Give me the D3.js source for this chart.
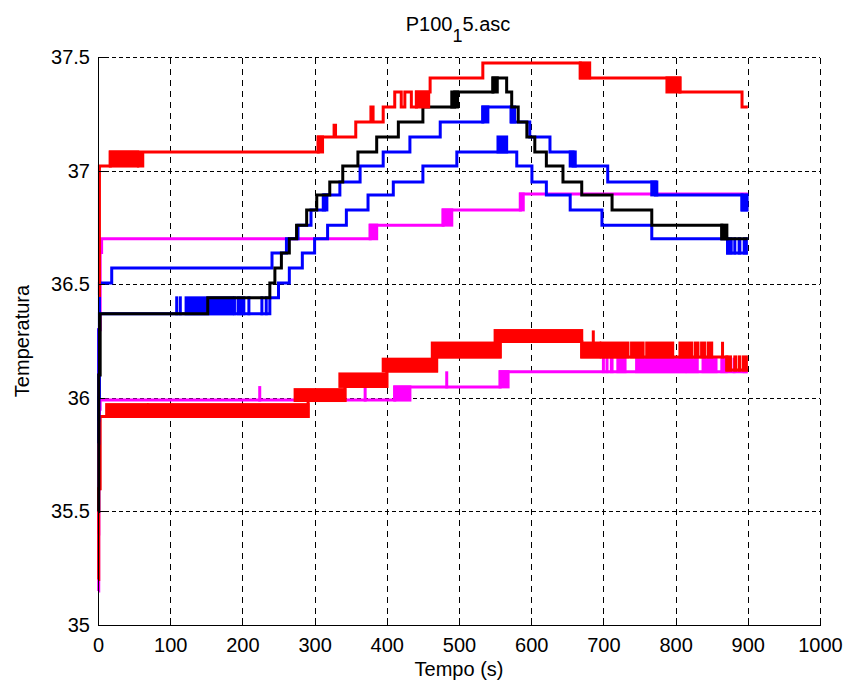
<!DOCTYPE html>
<html>
<head>
<meta charset="utf-8">
<script src="https://cdn.jsdelivr.net/npm/d3@7"></script>
<style>
  html, body { margin: 0; padding: 0; background: #fff; }
  svg { display: block; }
  text { font-family: "Liberation Sans", Arial, sans-serif; fill: #000; }
</style>
</head>
<body>
<svg id="chart" width="845" height="690"></svg>
<script>
// Axis ticks
const xTicks = [0, 100, 200, 300, 400, 500, 600, 700, 800, 900, 1000];
const yTicks = [35, 35.5, 36, 36.5, 37, 37.5];
const yTickLabels = ["35", "35.5", "36", "36.5", "37", "37.5"];

// Step series: [tempo (s), temperatura]
const redTop = [[0,36.45],[2,37.02],[17,37.082],[56,37.02],[58,37.082],[60,37.02],[62,37.082],
  [305,37.148],[327,37.2],[329,37.148],[357,37.214],[378,37.28],[381,37.214],
  [395,37.28],[411,37.346],[420,37.28],[425,37.346],[434,37.28],[441,37.346],
  [460,37.408],[533,37.474],[668,37.408],[806,37.346],[892,37.28],[900,37.28]];
const black = [[0,35.5],[1,36.1],[3,36.37],[152,36.44],[238,36.505],[245,36.571],[254,36.637],
  [265,36.70],[275,36.76],[289,36.827],[303,36.893],[321,36.95],[339,37.02],[360,37.082],
  [386,37.148],[416,37.214],[450,37.28],[494,37.346],[547,37.408],[566,37.346],[573,37.28],
  [582,37.214],[594,37.148],[605,37.082],[621,37.02],[644,36.95],[670,36.893],[712,36.827],
  [767,36.76],[864,36.70],[900,36.70]];
const blueUpper = [[0,35.9],[1,36.3],[2,36.505],[19,36.571],[241,36.637],[261,36.70],[277,36.76],
  [295,36.827],[314,36.893],[335,36.95],[363,37.02],[395,37.082],[432,37.148],[474,37.214],
  [533,37.28],[573,37.214],[598,37.148],[626,37.082],[658,37.02],[706,36.95],[772,36.893],
  [892,36.827],[900,36.827]];
const blueLower = [[0,35.8],[1,36.0],[2,36.37],[238,36.44],[250,36.505],[265,36.571],[283,36.637],
  [300,36.70],[318,36.76],[344,36.827],[374,36.893],[409,36.95],[450,37.02],[497,37.082],
  [580,37.02],[601,36.95],[621,36.893],[654,36.827],[698,36.76],[767,36.70],[872,36.637],
  [900,36.637]];
const magentaUpper = [[0,35.4],[1,36.3],[3,36.64],[5,36.70],[377,36.76],[478,36.827],[585,36.897],[900,36.897]];
const magentaLower = [[0,35.15],[1,35.6],[2,35.95],[3,35.99],[411,36.048],[557,36.115],[900,36.115]];
const redLower = [[0,35.2],[1,35.6],[3,35.918],[291,35.988],[342,36.05],[400,36.118],[469,36.18],
  [557,36.248],[670,36.18],[871,36.122],[900,36.122]];

// Rapid toggling between two levels: [t0, t1, low, high]
const redTopNoise = [[17,55,37.02,37.082],[305,311,37.082,37.148],[441,458,37.28,37.346],
  [668,681,37.408,37.474],[788,806,37.346,37.408]];
const blackNoise = [[490,498,37.28,37.346],[547,553,37.346,37.408],[864,871,36.70,36.76]];
const blueUpperNoise = [[312,317,36.827,36.893],[533,540,37.214,37.28],[572,577,37.214,37.28],
  [654,661,37.02,37.082],[767,774,36.893,36.95],[892,899,36.827,36.893]];
const blueLowerNoise = [[109,109,36.37,36.44],[114,114,36.37,36.44],[122,186,36.37,36.44],
  [189,189,36.37,36.44],[194,202,36.37,36.44],[209,209,36.37,36.44],[227,227,36.37,36.44],
  [233,233,36.37,36.44],[554,566,37.082,37.148],[872,877,36.637,36.70],[882,882,36.637,36.70],
  [888,889,36.637,36.70],[895,898,36.637,36.70]];
const magentaUpperNoise = [[377,386,36.70,36.76],[478,490,36.76,36.827],[585,589,36.827,36.897]];
const magentaLowerNoise = [[224,224,35.99,36.045],[370,370,35.99,36.045],[411,432,35.99,36.048],
  [483,483,36.048,36.11],[557,568,36.048,36.115],[700,700,36.115,36.17],[705,705,36.115,36.17],
  [711,712,36.115,36.17],[720,730,36.115,36.17],[746,813,36.115,36.17],[816,830,36.115,36.17],
  [838,856,36.115,36.17],[864,870,36.115,36.17],[881,881,36.115,36.17],[895,897,36.115,36.17]];
const redLowerNoise = [[12,68,35.918,35.97],[70,291,35.918,35.97],[273,342,35.988,36.036],
  [335,400,36.05,36.105],[395,469,36.118,36.17],[463,557,36.18,36.241],[550,670,36.248,36.296],
  [670,695,36.18,36.241],[686,686,36.241,36.29],[697,734,36.18,36.241],[739,755,36.18,36.241],
  [760,796,36.18,36.241],[806,822,36.18,36.241],[827,831,36.18,36.241],[836,840,36.18,36.241],
  [845,850,36.18,36.241],[865,865,36.18,36.24],[871,876,36.122,36.18],[882,883,36.122,36.18],
  [888,889,36.122,36.18],[894,898,36.122,36.18]];

// Drawing order: later entries sit on top
const series = [
  { data: magentaUpper, noise: magentaUpperNoise, color: "#ff00ff" },
  { data: magentaLower, noise: magentaLowerNoise, color: "#ff00ff" },
  { data: redLower,     noise: redLowerNoise,     color: "#ff0000" },
  { data: blueUpper,    noise: blueUpperNoise,    color: "#0000ff" },
  { data: blueLower,    noise: blueLowerNoise,    color: "#0000ff" },
  { data: black,        noise: blackNoise,        color: "#000000" },
  { data: redTop,       noise: redTopNoise,       color: "#ff0000" }
];

const svg = d3.select("#chart");
const plotLeft = 98, plotRight = 820, plotTop = 57, plotBottom = 625;
const x = d3.scaleLinear().domain([0, 1000]).range([plotLeft, plotRight]);
const y = d3.scaleLinear().domain([35, 37.5]).range([plotBottom, plotTop]);
const lw = 3;

svg.append("rect").attr("width", 845).attr("height", 690).attr("fill", "#fff");

// Dashed grid
const grid = svg.append("g").attr("stroke", "#000").attr("stroke-width", 1).attr("shape-rendering", "crispEdges");
grid.selectAll("line.v").data(xTicks).join("line").attr("class", "v")
  .attr("x1", d => Math.round(x(d)) + 0.5).attr("x2", d => Math.round(x(d)) + 0.5)
  .attr("y1", plotBottom).attr("y2", plotTop)
  .attr("stroke-dasharray", "6,5");
grid.selectAll("line.h").data(yTicks).join("line").attr("class", "h")
  .attr("y1", d => Math.round(y(d)) + 0.5).attr("y2", d => Math.round(y(d)) + 0.5)
  .attr("x1", plotLeft).attr("x2", plotRight)
  .attr("stroke-dasharray", "4,3");

// Data
const line = d3.line().x(d => x(d[0])).y(d => y(d[1])).curve(d3.curveStepAfter);
const plot = svg.append("g");
series.forEach(s => {
  const g = plot.append("g");
  g.append("path").datum(s.data)
    .attr("d", line).attr("fill", "none")
    .attr("stroke", s.color).attr("stroke-width", lw)
    .attr("stroke-linejoin", "miter");
  g.selectAll("rect").data(s.noise).join("rect")
    .attr("x", d => x(d[0]) - lw / 2)
    .attr("width", d => x(d[1]) - x(d[0]) + lw)
    .attr("y", d => y(d[3]) - lw / 2)
    .attr("height", d => y(d[2]) - y(d[3]) + lw)
    .attr("fill", s.color);
});

// Axes with inward ticks
const xAxis = d3.axisBottom(x).tickValues(xTicks).tickSizeInner(-7).tickSizeOuter(0).tickPadding(13)
  .tickFormat(d3.format("d"));
const yAxis = d3.axisLeft(y).tickValues(yTicks).tickSizeInner(-7).tickSizeOuter(0).tickPadding(8)
  .tickFormat((d, i) => yTickLabels[i]);

const gx = svg.append("g").attr("transform", `translate(0,${plotBottom})`).call(xAxis);
const gy = svg.append("g").attr("transform", `translate(${plotLeft},0)`).call(yAxis);
[gx, gy].forEach(g => {
  g.selectAll("path.domain").attr("stroke", "#000").attr("stroke-width", 1).attr("shape-rendering", "crispEdges");
  g.selectAll(".tick line").attr("stroke", "#000").attr("shape-rendering", "crispEdges");
  g.selectAll(".tick text").attr("font-size", 20).attr("font-family", "Liberation Sans, Arial, sans-serif").attr("fill", "#000");
});

// Title with subscript
const title = svg.append("text").attr("x", 458).attr("y", 31).attr("text-anchor", "middle").attr("font-size", 20);
title.append("tspan").text("P100");
title.append("tspan").attr("font-size", 18).attr("dy", 11).text("1");
title.append("tspan").attr("dy", -11).text("5.asc");

svg.append("text").attr("x", 459).attr("y", 676).attr("text-anchor", "middle").attr("font-size", 20).text("Tempo (s)");
svg.append("text").attr("transform", "translate(29,341) rotate(-90)").attr("text-anchor", "middle").attr("font-size", 20).text("Temperatura");
</script>
</body>
</html>
